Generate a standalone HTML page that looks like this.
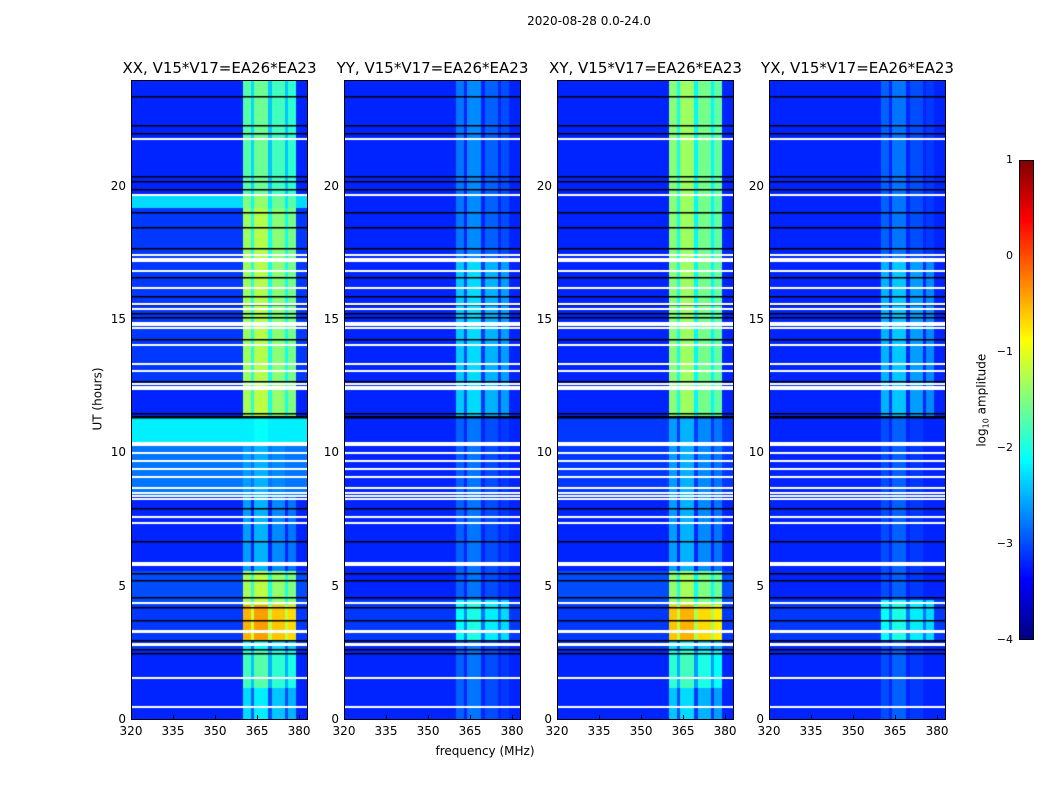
<!DOCTYPE html>
<html><head><meta charset="utf-8">
<style>
body{margin:0;background:#fff;font-family:"DejaVu Sans","Liberation Sans",sans-serif;}
#root{position:relative;width:1050px;height:800px;overflow:hidden;background:#fff}
.t{position:absolute;white-space:nowrap;color:#000}
canvas{position:absolute}
.frame{position:absolute;border:1px solid #000;box-sizing:border-box}
</style></head><body>
<div id="root">
<div class="t" style="left:489px;top:14px;width:200px;text-align:center;font-size:12px">2020-08-28 0.0-24.0</div>
<div class="t" style="left:400px;top:744px;width:170px;text-align:center;font-size:12px">frequency (MHz)</div>
<div class="t" style="left:40px;top:392px;width:115px;text-align:center;font-size:12px;transform:rotate(-90deg)">UT (hours)</div>
<div class="t" style="left:925px;top:392px;width:115px;text-align:center;font-size:12px;transform:rotate(-90deg)">log<sub style="font-size:8px">10</sub> amplitude</div>
</div>
<script>
const titles=["XX, V15*V17=EA26*EA23","YY, V15*V17=EA26*EA23","XY, V15*V17=EA26*EA23","YX, V15*V17=EA26*EA23"];
const panelLefts=[131,344,557,769];
const xTicks=[320,335,350,365,380];
const yTicks=[0,5,10,15,20];
const cbTicks=[1,0,-1,-2,-3,-4];
const whiteLines=[21.8,19.7,17.45,17.3,17.2,16.85,16.2,15.6,15.4,14.9,14.8,14.7,14.05,13.35,13.1,12.6,12.5,12.4,10.4,10.3,10.0,9.7,9.4,9.1,8.7,8.5,8.4,8.3,7.6,7.4,5.9,5.8,4.4,3.35,3.3,2.85,2.8,1.58,0.5];
const blackLines=[23.4,22.3,22.0,20.4,20.2,19.9,19.05,18.5,17.7,16.6,15.9,15.6,15.25,15.1,14.3,12.7,11.5,11.4,11.35,7.95,6.7,5.5,5.25,4.6,4.25,3.75,3.0,2.65,2.5];
const bandCols=[[360,363,0],[363,364,-0.6],[364,369,0.1],[369,370.5,-0.7],[370.5,375,-0.1],[375,376,-0.7],[376,379,-0.2]];
const segXX=[[0,1.2,-3.2,-2.3],[1.2,2.6,-3.2,-1.8],[2.6,3.0,-3.1,-2.2],[3.0,4.3,-3.1,-0.5],[4.3,5.6,-3.0,-1.3],[5.6,8.4,-3.2,-2.6],[8.4,10.3,-2.8,-2.6],[10.3,11.4,-2.2,-2.2],[11.4,12.6,-3.2,-1.3],[12.6,19.2,-3.1,-1.35],[19.2,19.7,-2.3,-1.5],[19.7,24,-3.2,-1.7]];
const segYY=[[0,3.0,-3.2,-2.9],[3.0,4.5,-3.1,-2.1],[4.5,11.4,-3.2,-2.9],[11.4,17.2,-3.2,-2.4],[17.2,24,-3.2,-2.8]];
const segXY=[[0,1.2,-3.2,-2.4],[1.2,2.6,-3.2,-1.9],[2.6,3.0,-3.1,-2.3],[3.0,4.3,-3.1,-0.6],[4.3,5.6,-3.0,-1.4],[5.6,8.4,-3.2,-2.6],[8.4,11.4,-3.1,-2.6],[11.4,24,-3.2,-1.45]];
const segYX=[[0,3.0,-3.2,-3.0],[3.0,4.5,-3.1,-2.1],[4.5,11.4,-3.2,-3.0],[11.4,17.2,-3.2,-2.5],[17.2,24,-3.2,-2.9]];
const panelSegs=[segXX,segYY,segXY,segYX];

const root=document.getElementById('root');
const PT=80,PH=640,PW=177,F0=320,F1=383.2,HMAX=24;
function yOf(h){return PT+PH-h/HMAX*PH;}
function xOf(f,left){return left+(f-F0)/(F1-F0)*PW;}
function jet(v){
  let t=Math.max(0,Math.min(1,(v+4)/5));
  const c=x=>Math.max(0,Math.min(1,x));
  const r=c(1.5-Math.abs(4*t-3)),g=c(1.5-Math.abs(4*t-2)),b=c(1.5-Math.abs(4*t-1));
  return [Math.round(r*255),Math.round(g*255),Math.round(b*255)];
}
function addText(txt,x,y,w,align,size,name){
  const d=document.createElement('div');d.className='t';d.textContent=txt;
  d.style.left=x+'px';d.style.top=y+'px';d.style.width=w+'px';d.style.textAlign=align;d.style.fontSize=size+'px';
  
  
  root.appendChild(d);
}
panelSegs.forEach((segs,p)=>{
  const left=panelLefts[p];
  const cv=document.createElement('canvas');
  cv.width=PW;cv.height=PH;cv.style.left=left+'px';cv.style.top=PT+'px';
  
  
  root.appendChild(cv);
  const ctx=cv.getContext('2d');
  const img=ctx.createImageData(PW,PH);
  for(let y=0;y<PH;y++){
    const h=(PH-y-0.5)/PH*HMAX;
    let seg=segs.find(s=>h>=s[0]&&h<s[1])||segs[segs.length-1];
    for(let x=0;x<PW;x++){
      const f=F0+(x+0.5)/PW*(F1-F0);
      let v=seg[2];
      const bc=bandCols.find(c=>f>=c[0]&&f<c[1]);
      if(bc) v=Math.max(seg[2],seg[3]+bc[2]);
      const col=jet(v);const i=(y*PW+x)*4;
      img.data[i]=col[0];img.data[i+1]=col[1];img.data[i+2]=col[2];img.data[i+3]=255;
    }
  }
  ctx.putImageData(img,0,0);
  ctx.fillStyle='#000';
  blackLines.forEach(h=>{ctx.fillRect(0,Math.round(yOf(h)-PT),PW,1.5);});
  ctx.fillStyle='#fff';
  whiteLines.forEach(h=>{ctx.fillRect(0,Math.round(yOf(h)-PT-1),PW,2);});
  const fr=document.createElement('div');fr.className='frame';
  fr.style.left=left+'px';fr.style.top=PT+'px';fr.style.width=PW+'px';fr.style.height=PH+'px';
  
  
  root.appendChild(fr);
  addText(titles[p],left-40,59,PW+80,'center',15,'panel-title-'+(p+1));
  xTicks.forEach(f=>{
    const x=xOf(f,left);
    addText(String(f),x-20,724,40,'center',12,'x-tick-label');
    const tk=document.createElement('div');tk.style.cssText=`position:absolute;left:${x}px;top:${PT+PH-5}px;width:1px;height:5px;background:#000`;
    
    
    root.appendChild(tk);
  });
  yTicks.forEach(h=>{
    const y=yOf(h);
    addText(String(h),left-40,y-8,35,'right',12,'y-tick-label');
  });
});
const cb=document.createElement('canvas');cb.width=15;cb.height=480;cb.style.left='1019px';cb.style.top='160px';


root.appendChild(cb);
const cctx=cb.getContext('2d');
for(let y=0;y<480;y++){const v=1-(y+0.5)/480*5;const c=jet(v);cctx.fillStyle=`rgb(${c[0]},${c[1]},${c[2]})`;cctx.fillRect(0,y,15,1);}
const cbf=document.createElement('div');cbf.className='frame';cbf.style.cssText+='left:1019px;top:160px;width:15px;height:480px';


root.appendChild(cbf);
cbTicks.forEach(v=>{
  const y=160+(1-v)/5*480;
  addText(v<0?'\u2212'+(-v):String(v),975,y-7,38,'right',11,'colorbar-tick-label');
});
</script>
</body></html>
